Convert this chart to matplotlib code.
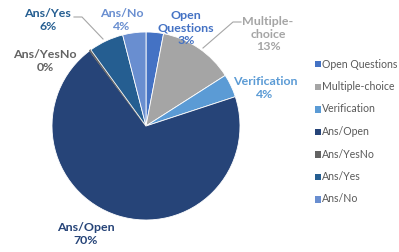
import matplotlib
matplotlib.use("Agg")
import matplotlib.pyplot as plt
from matplotlib.patches import Rectangle

categories = ["Open Questions", "Multiple-choice", "Verification", "Ans/Open", "Ans/YesNo", "Ans/Yes", "Ans/No"]
values = [3, 13, 4, 70, 0.25, 6, 4]
label_texts = ["Open\nQuestions", "Multiple-\nchoice", "Verification", "Ans/Open", "Ans/YesNo", "Ans/Yes", "Ans/No"]
colors = ["#4472C4", "#A5A5A5", "#5B9BD5", "#264478", "#636363", "#255E91", "#698ED0"]

W, H = 399, 252
fig = plt.figure(figsize=(W / 100, H / 100), dpi=100)
fig.patch.set_facecolor("white")

def fx(px):
    return px / W

def fy(py):
    return 1 - py / H

cx, cy, r = 146, 126, 94
ax = fig.add_axes([fx(cx - r), fy(cy + r), 2 * r / W, 2 * r / H])
wedges, _ = ax.pie(values, colors=colors, startangle=90, counterclock=False,
                   wedgeprops=dict(edgecolor="white", linewidth=0.6))
wedges[4].set_edgecolor("#636363")
wedges[4].set_linewidth(1.0)
ax.set_xlim(-1, 1)
ax.set_ylim(-1, 1)
ax.set_aspect("equal")
ax.axis("off")

# label layout (pixel centers)
label_pos = [(186, 28), (268, 34), (265, 88), (86, 234), (45, 61), (48, 20), (122, 20)]
font = ["Lato", "DejaVu Sans"]
for name, txt, v, c, (px, py) in zip(categories, label_texts, values, colors, label_pos):
    fig.text(fx(px), fy(py), f"{txt}\n{round(v):.0f}%", ha="center", va="center",
             color=c, fontsize=8.9, fontweight="bold", family=font, linespacing=1.2)

# leader lines
for pts in ([(74, 17), (82, 17), (103, 39)], [(241, 22), (233, 22), (203, 48)]):
    fig.add_artist(plt.Line2D([fx(p[0]) for p in pts], [fy(p[1]) for p in pts],
                              color="#A6A6A6", linewidth=0.8))

# legend
leg_y0, leg_dy = 64, 22.5
for i, (name, c) in enumerate(zip(categories, colors)):
    y = leg_y0 + i * leg_dy
    fig.add_artist(Rectangle((fx(315), fy(y + 3.5)), 6 / W, 6.5 / H, facecolor=c,
                             edgecolor="none", transform=fig.transFigure))
    fig.text(fx(322), fy(y), name, ha="left", va="center", color="#595959",
             fontsize=7.6, family=font)

fig.savefig("out.png", dpi=100)
